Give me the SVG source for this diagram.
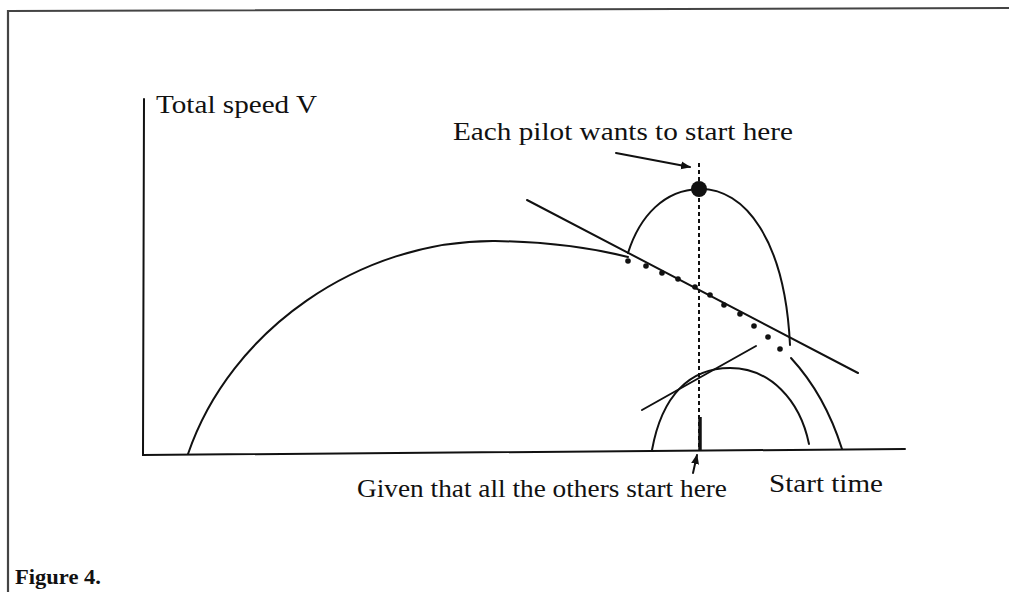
<svg xmlns="http://www.w3.org/2000/svg" width="1009" height="592" viewBox="0 0 1009 592">
<style>
.ln{fill:none;stroke:#111;stroke-width:2;stroke-linecap:round}
.lbl{font-family:"Liberation Serif","Times New Roman",serif;font-size:26px;fill:#111}
.dot{fill:#111}
</style>
<defs>
<marker id="ah" viewBox="0 0 10 10" refX="9" refY="5" markerWidth="5" markerHeight="5" orient="auto" markerUnits="strokeWidth">
<path d="M0,1 L10,5 L0,9 z" fill="#111"/>
</marker>
</defs>
<rect width="1009" height="592" fill="#fff"/>
<g id="frame">
<path d="M8,592 L8,11 L1009,8" fill="none" stroke="#444" stroke-width="2.2"/>
<text x="15" y="584" font-family="'Liberation Serif','Times New Roman',serif" font-weight="bold" font-size="22" fill="#111" textLength="86" lengthAdjust="spacingAndGlyphs">Figure 4.</text>
</g>
<g id="axes">
<path class="ln" d="M144,99 L143,455 L905,449"/>
<text class="lbl" x="156" y="113" textLength="161" lengthAdjust="spacingAndGlyphs">Total speed V</text>
<text class="lbl" x="769" y="492" textLength="114" lengthAdjust="spacingAndGlyphs">Start time</text>
</g>
<g id="big-curve">
<path class="ln" d="M188,454 C230,330 360,240 495,241 C560,242 600,250 628,257"/>
<g class="dot">
<circle cx="628" cy="261" r="2.8"/><circle cx="646" cy="266" r="2.8"/><circle cx="662" cy="273" r="2.8"/><circle cx="678" cy="279" r="2.8"/><circle cx="695" cy="287" r="2.8"/><circle cx="710" cy="295" r="2.8"/><circle cx="724" cy="305" r="2.8"/><circle cx="740" cy="314" r="2.8"/><circle cx="754" cy="326" r="2.8"/><circle cx="768" cy="337" r="2.8"/><circle cx="780" cy="349" r="2.8"/>
</g>
</g>
<g id="upper-tangent">
<path class="ln" d="M527,200 L858,373"/>
</g>
<g id="upper-arc">
<path class="ln" d="M628,253 C640,215 665,190 699,189 C745,188 785,240 790,345"/>
<circle class="dot" cx="699" cy="189" r="8"/>
</g>
<g id="lower-curves">
<path class="ln" d="M652,450 C662,395 690,368 730,368 C770,368 800,400 809,444"/>
<path class="ln" d="M642,410 L756,346"/>
<path class="ln" d="M791,358 Q825,395 842,449"/>
</g>
<g id="marker-line">
<path d="M699,163 L699,450" fill="none" stroke="#111" stroke-width="2" stroke-dasharray="4 3"/>
<path d="M700,417 L700,450" fill="none" stroke="#111" stroke-width="3.5"/>
</g>
<g id="connectors">
<path class="ln" d="M616,153 L690,167" marker-end="url(#ah)"/>
<path class="ln" d="M693,473 L697,455" marker-end="url(#ah)" stroke-width="1.6"/>
</g>
<g id="labels">
<text class="lbl" x="453" y="140" textLength="340" lengthAdjust="spacingAndGlyphs">Each pilot wants to start here</text>
<text class="lbl" x="357" y="497" textLength="370" lengthAdjust="spacingAndGlyphs">Given that all the others start here</text>
</g>
</svg>
